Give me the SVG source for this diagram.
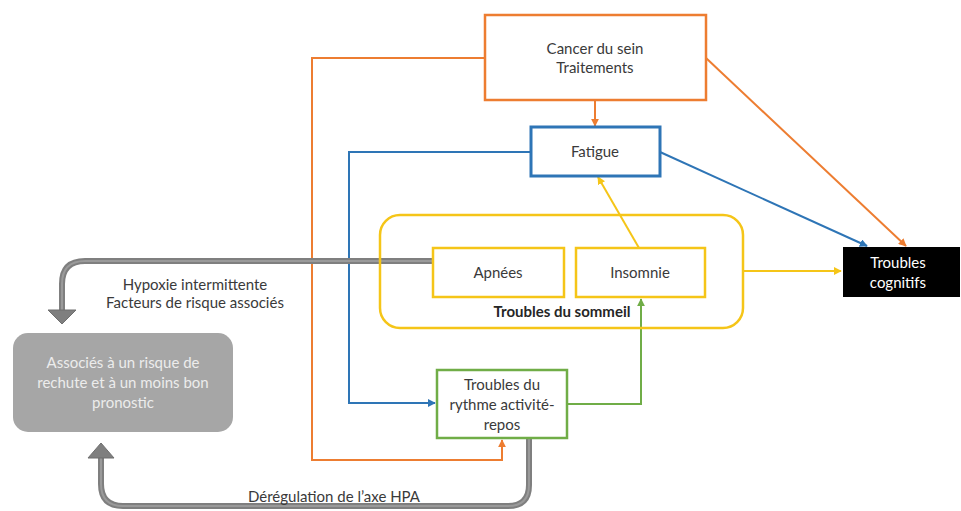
<svg xmlns="http://www.w3.org/2000/svg" width="961" height="511" viewBox="0 0 961 511">
<defs>
<style>
text{font-family:Lato,"Open Sans","Liberation Sans",sans-serif;font-size:15px;fill:#3a3a3a;text-anchor:middle}
.box{fill:#fff;stroke-width:2.5}
.c{fill:none;stroke-width:2}
.or{stroke:#ED7D31}.bl{stroke:#2E75B6}.ye{stroke:#F5C518}.gr{stroke:#70AD47}
.gray{fill:none;stroke:#7f7f7f;stroke-width:6}
.grayin{fill:none;stroke:#9a9a9a;stroke-width:2}
</style>
<marker id="mo" viewBox="0 0 10 10" refX="9" refY="5" markerWidth="4" markerHeight="4" orient="auto-start-reverse"><path d="M0,0L10,5L0,10z" fill="#ED7D31"/></marker>
<marker id="mb" viewBox="0 0 10 10" refX="9" refY="5" markerWidth="4" markerHeight="4" orient="auto-start-reverse"><path d="M0,0L10,5L0,10z" fill="#2E75B6"/></marker>
<marker id="my" viewBox="0 0 10 10" refX="9" refY="5" markerWidth="4" markerHeight="4" orient="auto-start-reverse"><path d="M0,0L10,5L0,10z" fill="#F5C518"/></marker>
<marker id="mg" viewBox="0 0 10 10" refX="9" refY="5" markerWidth="4" markerHeight="4" orient="auto-start-reverse"><path d="M0,0L10,5L0,10z" fill="#70AD47"/></marker>
</defs>
<rect width="961" height="511" fill="#fff"/>
<g id="connectors">
<path class="c or" d="M485,58H312V460H502V440" marker-end="url(#mo)"/>
<path class="c or" d="M595,100V126" marker-end="url(#mo)"/>
<path class="c or" d="M706,58L906,246" marker-end="url(#mo)"/>
<path class="c bl" d="M531,152H349V403H435" marker-end="url(#mb)"/>
<path class="c bl" d="M660,152L867,246" marker-end="url(#mb)"/>
<path class="c ye" d="M639,248L598,177" marker-end="url(#my)"/>
<path class="c ye" d="M743,271H841" marker-end="url(#my)"/>
<path class="c gr" d="M567,404H641V299" marker-end="url(#mg)"/>
<path class="gray" d="M433,261H85Q62,261 62,284V312"/>
<path class="grayin" d="M433,261H85Q62,261 62,284V312"/>
<path d="M48,310H76L62,324z" fill="#7f7f7f" stroke="#6f6f6f" stroke-width="1"/>
<path class="gray" d="M529,438V485Q529,506 508,506H123Q101,506 101,484V456"/>
<path class="grayin" d="M529,438V485Q529,506 508,506H123Q101,506 101,484V456"/>
<path d="M88,458H114L101,443z" fill="#7f7f7f" stroke="#6f6f6f" stroke-width="1"/>
</g>
<g id="cancer">
<rect class="box or" x="485" y="15" width="221" height="85"/>
<text x="595" y="54">Cancer du sein</text>
<text x="595" y="73">Traitements</text>
</g>
<g id="fatigue">
<rect class="box bl" x="531" y="127" width="129" height="49" style="stroke-width:3"/>
<text x="595" y="157">Fatigue</text>
</g>
<g id="sommeil">
<rect x="380" y="215" width="363" height="113" rx="20" fill="none" stroke="#F5C518" stroke-width="2.5"/>
<text x="562" y="317" style="font-weight:bold;fill:#262626">Troubles du sommeil</text>
</g>
<g id="apnees">
<rect class="box ye" x="433" y="248" width="131" height="49"/>
<text x="498" y="278">Apnées</text>
</g>
<g id="insomnie">
<rect class="box ye" x="576" y="248" width="129" height="49"/>
<text x="640" y="278">Insomnie</text>
</g>
<g id="cognitifs">
<rect x="843" y="247" width="117" height="50" fill="#000"/>
<text x="898" y="268" style="fill:#fff">Troubles</text>
<text x="898" y="288" style="fill:#fff">cognitifs</text>
</g>
<g id="rythme">
<rect class="box gr" x="437" y="370" width="130" height="68"/>
<text x="502" y="390">Troubles du</text>
<text x="502" y="410">rythme activité-</text>
<text x="502" y="430">repos</text>
</g>
<g id="risque">
<rect x="13" y="333" width="220" height="99" rx="15" fill="#a6a6a6"/>
<text x="123" y="368" style="fill:#ececec">Associés à un risque de</text>
<text x="123" y="388" style="fill:#ececec">rechute et à un moins bon</text>
<text x="123" y="408" style="fill:#ececec">pronostic</text>
</g>
<g id="labels">
<text x="195" y="290">Hypoxie intermittente</text>
<text x="195" y="308">Facteurs de risque associés</text>
<text x="334" y="502">Dérégulation de l’axe HPA</text>
</g>
</svg>
